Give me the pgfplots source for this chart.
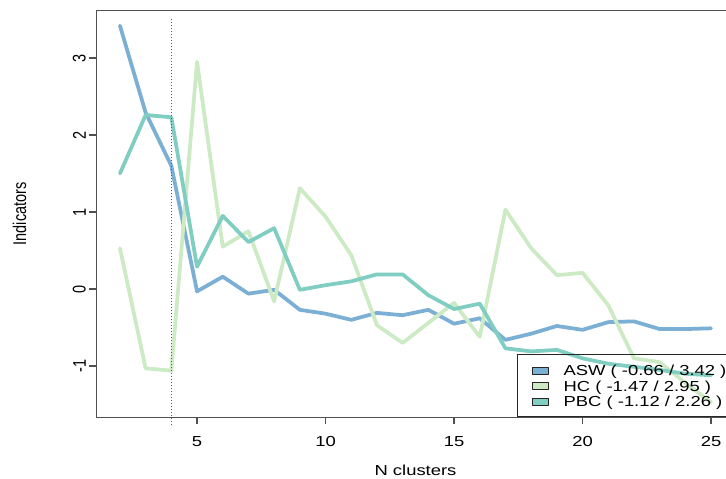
\documentclass[border=0pt]{standalone}
\usepackage{fontspec}
\setmainfont[FakeStretch=1.27]{Liberation Sans}
\newfontfamily\vfont[FakeStretch=0.787]{Liberation Sans}
\usepackage{pgfplots}
\pgfplotsset{compat=1.18}
\definecolor{cASW}{RGB}{123,175,212}
\definecolor{cHC}{RGB}{204,235,197}
\definecolor{cPBC}{RGB}{128,205,193}
\definecolor{axgray}{RGB}{80,80,80}
\definecolor{vred}{RGB}{235,30,30}
\begin{document}
\begin{tikzpicture}
\begin{axis}[
  at={(96.3pt,61.7pt)}, anchor=south west,
  scale only axis, width=638.4pt, height=406.7pt,
  xmin=1.08, xmax=25.92, ymin=-1.6656, ymax=3.6156,
  xtick={5,10,15,20,25}, ytick={-1,0,1,2,3},
  xticklabels={5,10,15,20,25}, yticklabels={-1,0,1,2,3},
  tick align=outside, tick pos=left,
  major tick length=7pt,
  axis line style={axgray, line width=1.2pt},
  every tick/.style={axgray, line width=1.2pt},
  font=\fontsize{14.5}{17}\selectfont,
  /pgf/number format/assume math mode=true,
  xticklabel style={yshift=-9pt},
  yticklabel style={font=\vfont\fontsize{18.4}{20}\selectfont, rotate=90, anchor=south},
  xlabel={N clusters}, ylabel={Indicators},
  xlabel style={at={(axis description cs:0.5,-0.1440)}, anchor=base},
  ylabel style={at={(axis description cs:-0.1203,0.5)}, anchor=center, font=\vfont\fontsize{18.4}{20}\selectfont},
  clip=false,
  legend style={at={(axis description cs:1,0)}, anchor=south east, draw=black!85, line width=0.9pt, fill=none,
    inner xsep=0pt, inner ysep=8pt, column sep=15pt, row sep=0pt,
    nodes={inner sep=0pt, text height=12.4pt, text depth=2.4pt},
    cells={anchor=west}, font=\fontsize{14.5}{17}\selectfont},
  legend image code/.code={\path[draw=none,fill=none] (-15pt,0) -- (16pt,0); \filldraw[draw=black!85, line width=0.8pt] (0pt,-3.5pt) rectangle (16pt,3.5pt);},
]
\addplot[color=cASW, line width=3.75pt, line join=round, line cap=round] coordinates {
(2,3.42)(3,2.29)(4,1.60)(5,-0.03)(6,0.16)(7,-0.06)(8,-0.01)(9,-0.27)(10,-0.32)(11,-0.40)(12,-0.31)(13,-0.34)(14,-0.27)(15,-0.45)(16,-0.38)(17,-0.66)(18,-0.58)(19,-0.48)(20,-0.53)(21,-0.43)(22,-0.42)(23,-0.52)(24,-0.52)(25,-0.51)};
\addlegendentry{\makebox[170.6pt][l]{ASW ( -0.66 / 3.42 )}}
\addplot[color=cHC, line width=3.75pt, line join=round, line cap=round] coordinates {
(2,0.53)(3,-1.03)(4,-1.06)(5,2.95)(6,0.55)(7,0.75)(8,-0.16)(9,1.31)(10,0.94)(11,0.44)(12,-0.47)(13,-0.70)(14,-0.44)(15,-0.18)(16,-0.62)(17,1.03)(18,0.53)(19,0.18)(20,0.21)(21,-0.21)(22,-0.90)(23,-0.95)(24,-1.22)(25,-1.47)};
\addlegendentry{\makebox[170.6pt][l]{HC ( -1.47 / 2.95 )}}
\addplot[color=cPBC, line width=3.75pt, line join=round, line cap=round] coordinates {
(2,1.50)(3,2.26)(4,2.23)(5,0.29)(6,0.95)(7,0.61)(8,0.79)(9,-0.01)(10,0.05)(11,0.10)(12,0.19)(13,0.19)(14,-0.08)(15,-0.26)(16,-0.19)(17,-0.77)(18,-0.81)(19,-0.79)(20,-0.90)(21,-0.97)(22,-1.01)(23,-1.05)(24,-1.10)(25,-1.12)};
\addlegendentry{\makebox[170.6pt][l]{PBC ( -1.12 / 2.26 )}}
\addplot[color=vred, draw=vred, line width=1.6pt, dash pattern=on 1.6pt off 1.4pt, mark=none] coordinates {(4,-1.77)(4,3.52)};
\end{axis}
\pgfresetboundingbox
\path[use as bounding box] (0,0) rectangle (726pt,479pt);
\end{tikzpicture}
\end{document}
